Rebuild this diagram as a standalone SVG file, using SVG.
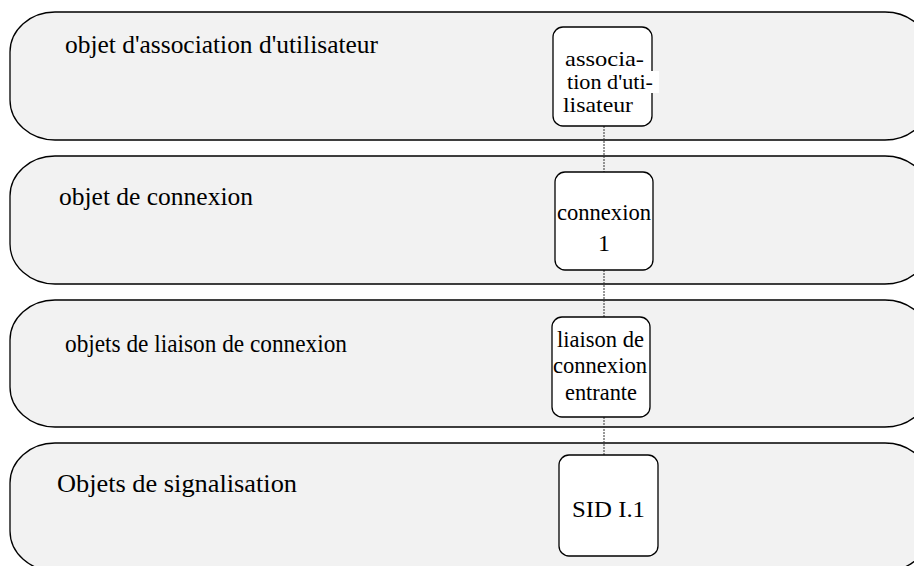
<svg xmlns="http://www.w3.org/2000/svg" width="914" height="566" viewBox="0 0 914 566">
<style>
.band{fill:#f2f2f2;stroke:#000;stroke-width:1.3}
.box{fill:#fff;stroke:#000;stroke-width:1.3}
.t{font-family:"Liberation Serif","Times New Roman",serif;font-size:24px;fill:#000}
.b{font-size:25px}
.s{font-size:21px}
.c{stroke:#333;stroke-width:1;stroke-dasharray:2 1;fill:none}
</style>
<rect width="914" height="566" fill="#fff"/>
<g id="band1"><rect class="band" x="10" y="12" width="920" height="128" rx="45" ry="40"/><text class="t b" x="65" y="53" textLength="313" lengthAdjust="spacingAndGlyphs">objet d'association d'utilisateur</text></g>
<g id="band2"><rect class="band" x="10" y="156" width="920" height="128" rx="45" ry="40"/><text class="t b" x="59" y="205" textLength="194" lengthAdjust="spacingAndGlyphs">objet de connexion</text></g>
<g id="band3"><rect class="band" x="10" y="300" width="920" height="127" rx="45" ry="40"/><text class="t b" x="65" y="352" textLength="282" lengthAdjust="spacingAndGlyphs">objets de liaison de connexion</text></g>
<g id="band4"><rect class="band" x="10" y="443" width="920" height="128" rx="45" ry="40"/><text class="t b" x="57" y="492" textLength="240" lengthAdjust="spacingAndGlyphs">Objets de signalisation</text></g>
<g id="connectors">
<line class="c" x1="604" y1="126" x2="604" y2="172"/>
<line class="c" x1="604" y1="270" x2="604" y2="317"/>
<line class="c" x1="604" y1="417" x2="604" y2="455"/>
</g>
<g id="node1"><rect class="box" x="553" y="27" width="99" height="99" rx="10"/><rect x="566" y="71" width="93" height="22" fill="#fff"/><text class="t s" x="565" y="66" textLength="79" lengthAdjust="spacingAndGlyphs">associa-</text><text class="t s" x="567" y="89" textLength="86" lengthAdjust="spacingAndGlyphs">tion d'uti-</text><text class="t s" x="563" y="112" textLength="70" lengthAdjust="spacingAndGlyphs">lisateur</text></g>
<g id="node2"><rect class="box" x="555" y="172" width="98" height="98" rx="10"/><text class="t" x="557" y="220" textLength="94" lengthAdjust="spacingAndGlyphs">connexion</text><text class="t" x="604" y="251" text-anchor="middle">1</text></g>
<g id="node3"><rect class="box" x="552" y="317" width="98" height="100" rx="10"/><text class="t" x="557" y="347" textLength="87" lengthAdjust="spacingAndGlyphs">liaison de</text><text class="t" x="553" y="373" textLength="94" lengthAdjust="spacingAndGlyphs">connexion</text><text class="t" x="565" y="400" textLength="72" lengthAdjust="spacingAndGlyphs">entrante</text></g>
<g id="node4"><rect class="box" x="559" y="455" width="99" height="101" rx="10"/><text class="t" x="572" y="517" textLength="73" lengthAdjust="spacingAndGlyphs">SID I.1</text></g>
</svg>
